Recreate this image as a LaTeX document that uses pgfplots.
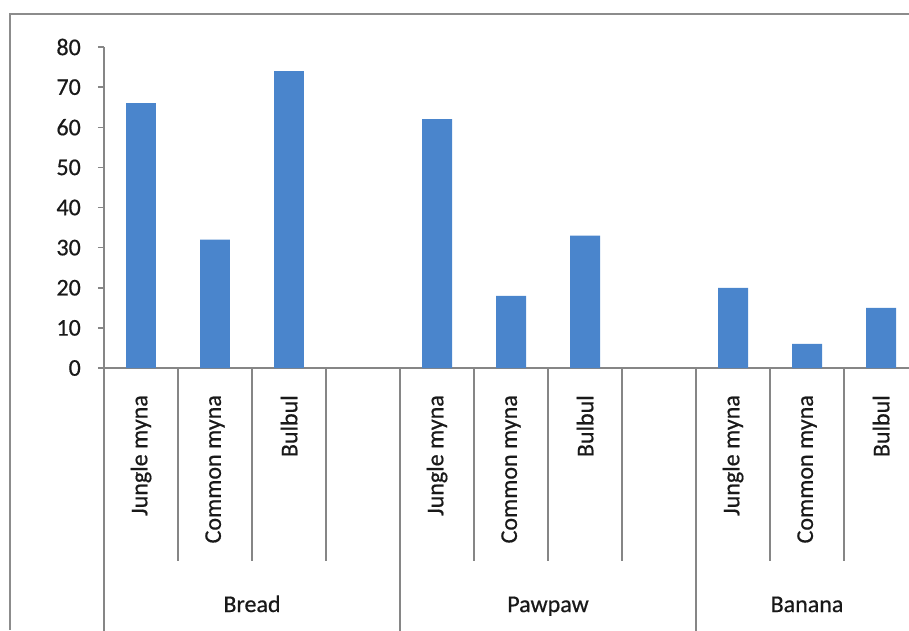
\documentclass[border=0pt]{standalone}
\usepackage{pgfplots}
\pgfplotsset{compat=1.18}
\usepackage{fontspec}
\setmainfont{Carlito}[FakeBold=0.6]
\newfontfamily\chartfont{Carlito}[AutoFakeBold=0.6]
\definecolor{barblue}{HTML}{4A85CC}
\definecolor{axgray}{HTML}{868686}
\definecolor{framegray}{HTML}{8C8C8C}
\begin{document}
\begin{tikzpicture}[font=\fontsize{24}{28}\selectfont\chartfont\bfseries]
\useasboundingbox (-104pt,-262pt) rectangle (805pt,368pt);
\draw[color=framegray, line width=2pt] (-94pt,-262pt) -- (-94pt,354pt) -- (805pt,354pt);
\begin{axis}[
  at={(0pt,0pt)}, anchor=south west, scale only axis,
  width=805pt, height=321pt,
  xmin=-0.5, xmax=10.378, ymin=0, ymax=80,
  axis x line*=bottom, axis y line*=left,
  axis line style={draw=axgray, line width=1.5pt},
  ytick={0,10,...,80},
  xtick={0,1,2,4,5,6,8,9,10},
  xticklabels={Jungle myna, Common myna, Bulbul, Jungle myna, Common myna, Bulbul, Jungle myna, Common myna, Bulbul},
  x tick style={draw=none},
  y tick style={draw=axgray, line width=1.5pt},
  tick align=outside, major tick length=6pt,
  xticklabel style={rotate=90, anchor=east, inner sep=0pt},
  xticklabel shift=21pt,
  yticklabel style={anchor=east, inner sep=0pt},
  yticklabel shift=17pt,
  /pgf/number format/assume math mode=true,
  ticklabel style={font=\fontsize{24}{28}\selectfont\chartfont\bfseries, text=black!90},
  clip=false,
]
\addplot[ybar, bar width=0.405, fill=barblue, draw=none]
  coordinates {(0,66) (1,32) (2,74) (4,62) (5,18) (6,33) (8,20) (9,6) (10,15)};
\foreach \s in {0.5,1.5,2.5,4.5,5.5,6.5,8.5,9.5} {
  \edef\tmp{\noexpand\draw[axgray, line width=1.5pt] (axis cs:\s,0) -- ++(0pt,-193pt);}
  \tmp
}
\foreach \s in {-0.5,3.5,7.5} {
  \edef\tmp{\noexpand\draw[axgray, line width=1.5pt] (axis cs:\s,0) -- ++(0pt,-265pt);}
  \tmp
}
\node[anchor=base, text=black!90] at (axis cs:1.5,0) [yshift=-244pt] {Bread};
\node[anchor=base, text=black!90] at (axis cs:5.5,0) [yshift=-244pt] {Pawpaw};
\node[anchor=base, text=black!90] at (axis cs:9,0) [yshift=-244pt] {Banana};
\end{axis}
\end{tikzpicture}
\end{document}
